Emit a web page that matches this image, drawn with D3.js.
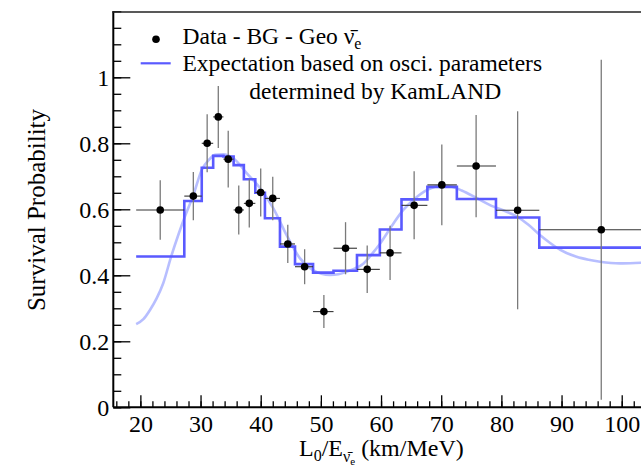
<!DOCTYPE html>
<html>
<head>
<meta charset="utf-8">
<script src="https://cdn.jsdelivr.net/npm/d3@7"></script>
<style>
  body { margin: 0; background: #fff; }
  svg { display: block; }
  text { font-family: "Liberation Serif", "Times New Roman", serif; fill: #000; }
</style>
</head>
<body>
<svg id="chart" width="641" height="474"></svg>
<script>
// data points (L/E in km/MeV, survival probability, symmetric error)
let pointX   = [23.3, 28.8, 31.1, 32.95, 34.6, 36.35, 38.1, 40.0, 42.0, 44.5, 47.3, 50.5, 54.1, 57.7, 61.5, 65.5, 70.1, 75.8, 82.7, 96.6];
let pointY   = [0.598, 0.640, 0.800, 0.880, 0.752, 0.598, 0.618, 0.651, 0.633, 0.495, 0.426, 0.290, 0.482, 0.418, 0.468, 0.612, 0.674, 0.731, 0.597, 0.538];
let pointErr = [0.090, 0.073, 0.088, 0.094, 0.086, 0.074, 0.073, 0.073, 0.066, 0.058, 0.053, 0.050, 0.079, 0.072, 0.082, 0.103, 0.122, 0.155, 0.300, 0.515];

// bin edges, shared by data x-errors and expectation histogram
let binEdges = [19.3, 27.3, 30.2, 32.1, 33.8, 35.5, 37.2, 39.1, 40.7, 43.2, 45.7, 48.7, 52.1, 56.0, 59.8, 63.4, 67.7, 72.6, 79.1, 86.3, 107];
let binExpect = [0.457, 0.625, 0.726, 0.762, 0.760, 0.734, 0.691, 0.650, 0.573, 0.487, 0.434, 0.408, 0.414, 0.461, 0.539, 0.630, 0.668, 0.631, 0.575, 0.484];

// smooth oscillation curve
let curveX = [19.3, 20.5, 21.6, 22.7, 23.8, 25.1, 26.3, 27.4, 28.8, 30.2, 31.3, 32.4, 33.8, 35.5, 37.7, 39.9, 42.1, 44.3, 46.5, 48.7, 50.1, 51.5, 52.9, 54.3, 55.7, 57.1, 58.5, 59.8, 61.8, 63.7, 65.6, 67.6, 69.0, 70.4, 71.8, 73.4, 76.0, 78.7, 80.7, 82.6, 84.5, 86.4, 88.1, 89.8, 92.5, 94.5, 96.4, 99.7, 103.2, 106];
let curveY = [0.252, 0.267, 0.295, 0.330, 0.376, 0.456, 0.522, 0.578, 0.643, 0.719, 0.748, 0.765, 0.767, 0.754, 0.709, 0.664, 0.603, 0.522, 0.452, 0.416, 0.405, 0.401, 0.403, 0.411, 0.421, 0.436, 0.465, 0.495, 0.550, 0.598, 0.632, 0.658, 0.668, 0.672, 0.668, 0.657, 0.633, 0.608, 0.594, 0.578, 0.553, 0.522, 0.498, 0.477, 0.456, 0.447, 0.441, 0.436, 0.438, 0.440];

let xMajor = [20, 30, 40, 50, 60, 70, 80, 90, 100];
let yMajor = [0, 0.2, 0.4, 0.6, 0.8, 1];

let x = d3.scaleLinear().domain([15.5, 105]).range([113.3, 651.8]);
let y = d3.scaleLinear().domain([0, 1.2]).range([407.3, 11.3]);

let svg = d3.select("#chart");

let xMinor = d3.range(16, 105, 2);
let yMinor = d3.range(0, 1.2001, 0.05);

// minor ticks (no labels)
svg.append("g")
    .attr("transform", "translate(0,407.3)")
    .call(d3.axisBottom(x).tickValues(xMinor).tickSizeInner(-6).tickSizeOuter(0).tickFormat(""))
    .call(g => g.select(".domain").remove())
    .selectAll("line").attr("stroke", "#000").attr("stroke-width", 1.3);
svg.append("g")
    .attr("transform", "translate(113.3,0)")
    .call(d3.axisLeft(y).tickValues(yMinor).tickSizeInner(-8).tickSizeOuter(0).tickFormat(""))
    .call(g => g.select(".domain").remove())
    .selectAll("line").attr("stroke", "#000").attr("stroke-width", 1.3);

// major ticks with labels
let xAxis = svg.append("g")
    .attr("transform", "translate(0,407.3)")
    .call(d3.axisBottom(x).tickValues(xMajor).tickSizeInner(-12).tickSizeOuter(0).tickPadding(6).tickFormat(d3.format("d")));
xAxis.select(".domain").remove();
xAxis.selectAll("line").attr("stroke", "#000").attr("stroke-width", 1.3);
xAxis.selectAll("text").attr("font-size", 24).attr("dy", "0.72em").attr("y", 7);

let yAxis = svg.append("g")
    .attr("transform", "translate(113.3,0)")
    .call(d3.axisLeft(y).tickValues(yMajor).tickSizeInner(-17).tickSizeOuter(0).tickPadding(4).tickFormat(d => d3.format("~g")(d)));
yAxis.select(".domain").remove();
yAxis.selectAll("line").attr("stroke", "#000").attr("stroke-width", 1.3);
yAxis.selectAll("text").attr("font-size", 24).attr("dy", "0.33em");

// frame lines
svg.append("line").attr("x1", 113.3).attr("x2", 641).attr("y1", 407.3).attr("y2", 407.3)
    .attr("stroke", "#000").attr("stroke-width", 2);
svg.append("line").attr("x1", 113.3).attr("x2", 113.3).attr("y1", 11.3).attr("y2", 407.3)
    .attr("stroke", "#000").attr("stroke-width", 2);
svg.append("line").attr("x1", 112.3).attr("x2", 641).attr("y1", 12).attr("y2", 12)
    .attr("stroke", "#222").attr("stroke-width", 1.4);

// smooth expectation curve
let curveData = curveX.map((v, i) => [v, curveY[i]]);
svg.append("path")
    .datum(curveData)
    .attr("fill", "none")
    .attr("stroke", "#6f7dff")
    .attr("stroke-opacity", 0.5)
    .attr("stroke-width", 2.6)
    .attr("d", d3.line().x(d => x(d[0])).y(d => y(d[1])).curve(d3.curveMonotoneX));

// binned expectation (step)
let stepData = [];
for (let i = 0; i < binExpect.length; i++) {
    stepData.push([binEdges[i], binExpect[i]]);
    stepData.push([binEdges[i + 1], binExpect[i]]);
}
svg.append("path")
    .datum(stepData)
    .attr("fill", "none")
    .attr("stroke", "#5a5aff")
    .attr("stroke-width", 2.6)
    .attr("d", d3.line().x(d => x(d[0])).y(d => y(d[1])));

// data points with errors
let pts = pointX.map((v, i) => ({
    x: v, y: pointY[i], err: pointErr[i],
    lo: binEdges[i], hi: binEdges[i + 1]
}));
let pg = svg.append("g");
pg.selectAll("line.v").data(pts).join("line")
    .attr("class", "v")
    .attr("x1", d => x(d.x)).attr("x2", d => x(d.x))
    .attr("y1", d => y(Math.min(d.y + d.err, 1.2))).attr("y2", d => y(Math.max(d.y - d.err, 0)))
    .attr("stroke", "#7a7a7a").attr("stroke-width", 1.3);
pg.selectAll("line.h").data(pts).join("line")
    .attr("class", "h")
    .attr("x1", d => x(d.lo)).attr("x2", d => x(d.hi))
    .attr("y1", d => y(d.y)).attr("y2", d => y(d.y))
    .attr("stroke", "#333").attr("stroke-width", 1.1);
pg.selectAll("circle").data(pts).join("circle")
    .attr("cx", d => x(d.x)).attr("cy", d => y(d.y)).attr("r", 3.8)
    .attr("fill", "#000");

// legend
svg.append("circle").attr("cx", 156).attr("cy", 39.3).attr("r", 3.8).attr("fill", "#000");
let t1 = svg.append("text").attr("x", 182.5).attr("y", 43.5).attr("font-size", 23.5);
t1.append("tspan").text("Data - BG - Geo ");
t1.append("tspan").text("ν\u0304");
t1.append("tspan").attr("font-size", 16).attr("dy", 5).text("e");

svg.append("line").attr("x1", 140.7).attr("x2", 170.7).attr("y1", 63.3).attr("y2", 63.3)
    .attr("stroke", "#5a5aff").attr("stroke-width", 2.2);
svg.append("text").attr("x", 182.5).attr("y", 71).attr("font-size", 23.5)
    .text("Expectation based on osci. parameters");
svg.append("text").attr("x", 249.3).attr("y", 98.5).attr("font-size", 23.5)
    .text("determined by KamLAND");

// axis titles
svg.append("text")
    .attr("transform", "translate(45,210) rotate(-90)")
    .attr("text-anchor", "middle")
    .attr("font-size", 25)
    .text("Survival Probability");

let xt = svg.append("text").attr("x", 299).attr("y", 456).attr("font-size", 24);
xt.append("tspan").text("L");
xt.append("tspan").attr("font-size", 16).attr("dy", 5).text("0");
xt.append("tspan").attr("dy", -5).text("/E");
xt.append("tspan").attr("font-size", 16).attr("dy", 6).text("ν\u0304");
xt.append("tspan").attr("font-size", 11).attr("dy", 3).text("e");
xt.append("tspan").attr("dy", -9).text(" (km/MeV)");
</script>
</body>
</html>
